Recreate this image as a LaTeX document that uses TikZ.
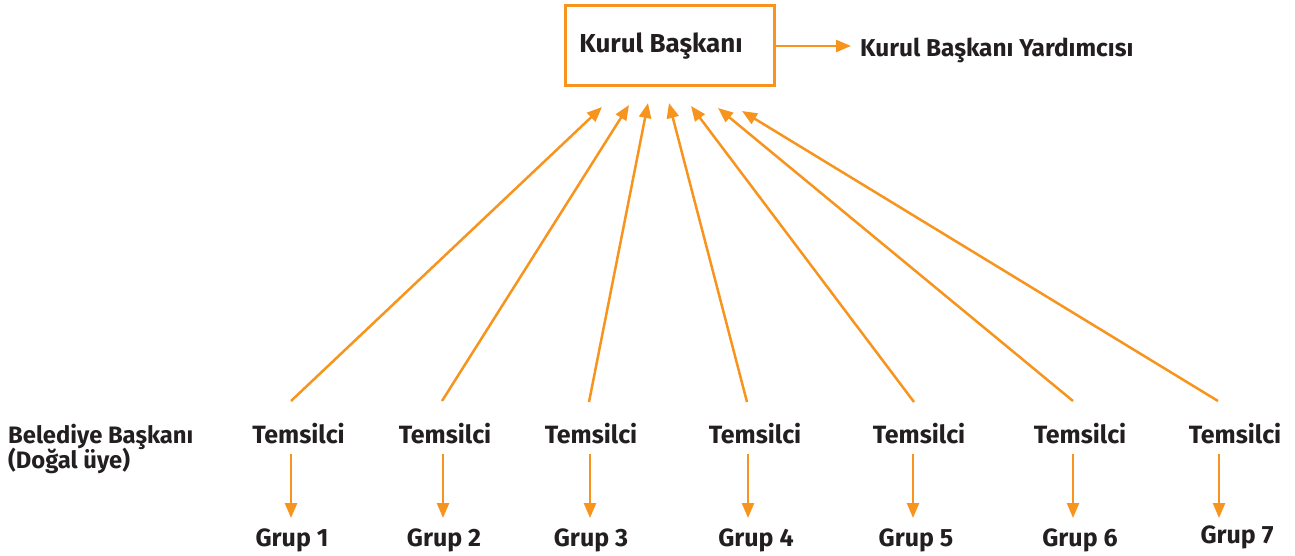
\documentclass[tikz,border=0pt]{standalone}
\usepackage{fontspec}
\setmainfont{Fira Sans}
\usetikzlibrary{arrows.meta}
\definecolor{org}{HTML}{F7941D}
\definecolor{txt}{HTML}{231F20}
\begin{document}
\begin{tikzpicture}[x=1pt,y=-1pt,
  lbl/.style={font=\fontsize{25}{29}\selectfont\bfseries, text=txt, inner sep=0pt, anchor=base},
  conn/.style={draw=org, line width=2.5pt, -{Triangle[length=15pt,width=12pt]}},
]
\useasboundingbox (0,0) rectangle (1295,556);
% top box
\node[draw=org, line width=3pt, minimum width=209pt, minimum height=80pt, inner sep=0pt] (kb) at (669.5,46) {};
\node[lbl, font=\fontsize{26}{30}\selectfont\bfseries] (kbt) at (661,53) {Kurul Başkanı};
\node[lbl, font=\fontsize{24.4}{28}\selectfont\bfseries, anchor=base west] (kby) at (860,57) {Kurul Başkanı Yardımcısı};
\coordinate (kbyl) at (851,46);
\draw[conn] (kb.east |- kbyl) -- (kbyl);
% left label
\node[lbl, font=\fontsize{23.8}{28}\selectfont\bfseries, anchor=base west] (bb) at (8,443) {Belediye Başkanı};
\node[lbl, font=\fontsize{23.8}{28}\selectfont\bfseries, anchor=base west] (du) at (8,468) {(Doğal üye)};
% temsilci and groups
\foreach \i/\tx/\gx/\gy/\lx/\sy/\ex/\ey in {
  1/298.5/292/546/291/401/602/107,
  2/445/444/546/442/401/629/105,
  3/591/591/546/589/402/648/103,
  4/755/756/546/747/402/669/103,
  5/919/916/546/914/402/691/106,
  6/1080/1080/546/1073/401/718/108,
  7/1235/1237/543/1218/401/742/111}{
  \node[lbl] (t\i) at (\tx,443) {Temsilci};
  \node[lbl] (g\i) at (\gx,\gy) {Grup \i};
  \coordinate (s\i) at (\lx,\sy);
  \coordinate (e\i) at (\ex,\ey);
  \draw[conn] (s\i) -- (e\i);
}
\foreach \i/\vx in {1/291,2/443,3/590,4/748,5/913,6/1073,7/1219}{
  \coordinate (va\i) at (\vx,454);
  \coordinate (vb\i) at (\vx,518);
  \draw[conn] (va\i) -- (vb\i);
}
\end{tikzpicture}
\end{document}
